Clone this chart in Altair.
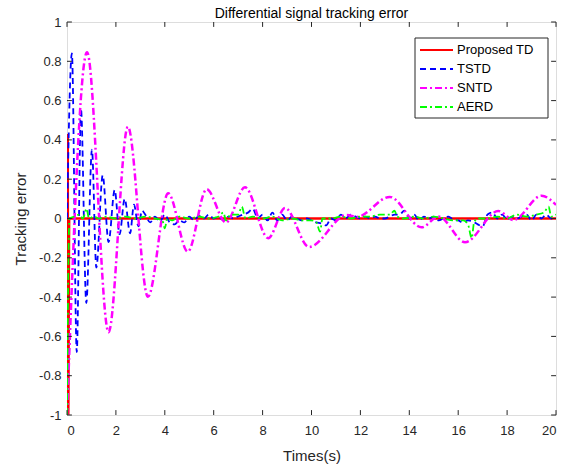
import altair as alt
import pandas as pd

# ---------------- data ----------------
names = ["Proposed TD", "TSTD", "SNTD", "AERD"]
colors = ["#FF0000", "#0000FF", "#FF00FF", "#00FF00"]
dashes = [[1, 0], [6, 4], [7, 3, 2, 3], [7, 3, 2, 3]]
widths = [2.5, 1.8, 2.5, 1.8]

red_t = [0.03, 0.05, 0.09, 20.0]
red_v = [0.43, -1.0, 0.0, 0.0]

blue_t = [0.0, 0.2, 0.4, 0.57, 0.79, 1.02, 1.2, 1.46, 1.7, 1.95, 2.15, 2.36, 2.58, 2.74, 2.92, 3.07,
          3.2, 3.4, 3.6, 3.8, 4.0, 4.2, 4.4, 4.6, 4.8, 5.0, 5.2, 5.4, 5.6, 5.8, 6.0, 6.2, 6.4, 6.6,
          6.8, 7.0, 7.2, 7.4, 7.6, 7.8, 8.0, 8.2, 8.4, 8.6, 8.8, 9.0, 9.2, 9.4, 9.6, 9.8, 10.0,
          10.2, 10.4, 10.6, 10.8, 11.0, 11.2, 11.4, 11.6, 11.8, 12.0, 12.2, 12.4, 12.6, 12.8, 13.0,
          13.2, 13.4, 13.6, 13.8, 14.0, 14.2, 14.4, 14.6, 14.8, 15.0, 15.2, 15.4, 15.6, 15.8, 16.0,
          16.2, 16.4, 16.6, 16.8, 17.0, 17.2, 17.4, 17.6, 17.8, 18.0, 18.2, 18.4, 18.6, 18.8, 19.0,
          19.2, 19.4, 19.6, 19.8, 20.0]
blue_v = [0.0, 0.84, -0.68, 0.56, -0.43, 0.35, -0.25, 0.22, -0.12, 0.145, -0.08, 0.10, -0.075, 0.07, -0.04, 0.04,
          0.02, -0.02, 0.01, -0.015, 0.02, -0.02, -0.03, -0.01, -0.02, 0.01, -0.01, 0.015, 0.0, 0.02, 0.0, 0.01, -0.01, 0.01,
          0.0, 0.01, 0.02, 0.03, 0.05, 0.0, 0.02, -0.01, 0.03, -0.01, 0.02, -0.01, 0.01, 0.0, -0.01, 0.0, -0.01,
          -0.02, -0.025, -0.035, 0.0, -0.01, 0.02, 0.0, 0.02, 0.01, 0.0, 0.01, 0.0, 0.01, 0.0, 0.0,
          0.01, 0.02, 0.02, 0.04, 0.0, 0.02, -0.01, 0.01, 0.0, 0.01, -0.01, 0.0, 0.01, -0.005, -0.01,
          -0.02, -0.01, -0.015, -0.03, -0.04, 0.02, 0.03, 0.0, 0.02, -0.005, 0.01, 0.0, 0.01, 0.02, -0.01,
          0.02, 0.0, 0.02, 0.0, 0.01]

mag_t = [0.0, 0.82, 1.70, 2.49, 3.31, 4.14, 4.94, 5.71, 6.50, 7.28, 8.23, 8.92, 9.9, 11.45, 11.85,
         13.2, 14.5, 15.2, 16.28, 17.64, 18.26, 19.41, 20.0]
mag_v = [-1.0, 0.846, -0.579, 0.467, -0.398, 0.128, -0.169, 0.149, -0.02, 0.159, -0.10, 0.053, -0.145, 0.018, 0.008,
         0.11, -0.045, 0.01, -0.121, 0.038, -0.008, 0.116, 0.069]

green_t = [0.0, 0.05, 0.1, 0.3, 0.5, 0.65, 0.8, 0.9, 1.1, 1.3, 1.6, 2.0, 2.4, 2.8, 3.2, 3.6, 3.9, 4.0, 4.1,
           4.3, 4.6, 5.0, 5.4, 5.8, 6.2, 6.4, 6.5, 6.7, 7.0, 7.15, 7.3, 7.6, 8.0, 8.4, 8.8, 9.2, 9.6,
           10.0, 10.2, 10.35, 10.45, 10.8, 11.2, 11.6, 12.0, 12.4, 12.8, 13.2, 13.4, 13.5, 13.8, 14.2,
           14.6, 15.0, 15.4, 15.8, 16.2, 16.4, 16.55, 16.65, 16.8, 17.2, 17.6, 18.0, 18.4, 18.8, 19.2,
           19.5, 19.7, 19.8, 20.0]
green_v = [-1.0, -0.3, 0.0, 0.01, 0.02, 0.0, 0.05, 0.0, 0.01, 0.0, 0.01, 0.0, 0.01, 0.0, 0.01, 0.0, -0.01, -0.05, 0.0,
           -0.01, 0.01, 0.0, 0.01, 0.0, 0.01, 0.03, -0.01, 0.02, 0.02, 0.06, 0.0, 0.01, 0.0, 0.01, -0.01, 0.0, -0.01,
           -0.01, -0.02, -0.067, 0.0, 0.0, 0.01, 0.0, 0.01, 0.01, 0.02, 0.02, 0.04, 0.01, 0.0, 0.01,
           0.0, 0.01, 0.0, -0.01, -0.01, -0.03, -0.10, -0.02, 0.0, 0.0, 0.01, 0.0, 0.02, 0.01, 0.02,
           0.03, 0.06, 0.01, 0.02]

x_ticks = [0, 2, 4, 6, 8, 10, 12, 14, 16, 18, 20]
y_ticks = [-1, -0.8, -0.6, -0.4, -0.2, 0, 0.2, 0.4, 0.6, 0.8, 1]

# ---------------- build tables ----------------
rows = []
for nm, ts, vs in [(names[0], red_t, red_v), (names[1], blue_t, blue_v),
                   (names[2], mag_t, mag_v), (names[3], green_t, green_v)]:
    for i, (t, v) in enumerate(zip(ts, vs)):
        rows.append({"series": nm, "t": t, "v": v, "i": i})
df = pd.DataFrame(rows)
legend_df = pd.DataFrame({"series": names, "k": list(range(len(names)))})

FONT = "Liberation Sans"
xs = alt.Scale(domain=[0, 20], nice=False, zero=False)
ys = alt.Scale(domain=[-1, 1], nice=False, zero=False)
cscale = alt.Scale(domain=names, range=colors)
dscale = alt.Scale(domain=names, range=dashes)

x_axis = alt.Axis(values=x_ticks, title="Times(s)", tickSize=0, domain=False, grid=False,
                  labelPadding=9, labelFontSize=13, titleFontSize=15, titlePadding=11,
                  labelFont=FONT, titleFont=FONT, labelColor="#262626", titleColor="#262626",
                  titleFontWeight="normal", labelOverlap=False)
y_axis = alt.Axis(values=y_ticks, title="Tracking error", tickSize=0, domain=False, grid=False,
                  labelPadding=6, labelFontSize=13, titleFontSize=15, titlePadding=10,
                  labelFont=FONT, titleFont=FONT, labelColor="#262626", titleColor="#262626",
                  titleFontWeight="normal", labelExpr="datum.value", labelOverlap=False)

lines = alt.Chart(df).mark_line(interpolate="monotone", clip=True).encode(
    x=alt.X("t:Q", scale=xs, axis=x_axis),
    y=alt.Y("v:Q", scale=ys, axis=y_axis),
    color=alt.Color("series:N", scale=cscale, legend=None),
    strokeDash=alt.StrokeDash("series:N", scale=dscale, legend=None),
    strokeWidth=alt.StrokeWidth("series:N", scale=alt.Scale(type="ordinal", domain=names, range=widths),
                                legend=None),
    order="i:Q",
    detail="series:N",
)

xt = pd.DataFrame({"x": x_ticks})
yt = pd.DataFrame({"y": y_ticks})
tick_col = "#262626"
bottom = alt.Chart(xt).transform_calculate(y0="-1", y1="-1 + 0.025").mark_rule(color=tick_col, strokeWidth=1).encode(
    x=alt.X("x:Q", scale=xs, axis=x_axis), y=alt.Y("y0:Q", scale=ys, axis=y_axis), y2="y1:Q")
top = alt.Chart(xt).transform_calculate(y0="1", y1="1 - 0.025").mark_rule(color=tick_col, strokeWidth=1).encode(
    x=alt.X("x:Q", scale=xs, axis=x_axis), y=alt.Y("y0:Q", scale=ys, axis=y_axis), y2="y1:Q")
left = alt.Chart(yt).transform_calculate(x0="0", x1="0.2").mark_rule(color=tick_col, strokeWidth=1).encode(
    y=alt.Y("y:Q", scale=ys, axis=y_axis), x=alt.X("x0:Q", scale=xs, axis=x_axis), x2="x1:Q")
right = alt.Chart(yt).transform_calculate(x0="20", x1="19.8").mark_rule(color=tick_col, strokeWidth=1).encode(
    y=alt.Y("y:Q", scale=ys, axis=y_axis), x=alt.X("x0:Q", scale=xs, axis=x_axis), x2="x1:Q")

# ---- legend (MATLAB style box in the upper right) ----
leg_box = alt.Chart(legend_df).transform_filter("datum.k == 0").mark_rect(
    fill="white", stroke="#262626", strokeWidth=1).encode(
    x=alt.value(348), x2=alt.value(481), y=alt.value(16), y2=alt.value(96))
leg_lines = alt.Chart(legend_df).transform_calculate(py="28 + 19 * datum.k").mark_rule(strokeWidth=2).encode(
    x=alt.value(353), x2=alt.value(386),
    y=alt.Y("py:Q", scale=None),
    color=alt.Color("series:N", scale=cscale, legend=None),
    strokeDash=alt.StrokeDash("series:N", scale=dscale, legend=None),
)
leg_text = alt.Chart(legend_df).transform_calculate(py="28 + 19 * datum.k").mark_text(
    align="left", baseline="middle", font=FONT, fontSize=13, color="black").encode(
    x=alt.value(390),
    y=alt.Y("py:Q", scale=None),
    text="series:N",
)

chart = alt.layer(lines, bottom, top, left, right, leg_box, leg_lines, leg_text).properties(
    width=489, height=393,
    title=alt.Title("Differential signal tracking error", fontSize=14, font=FONT,
                    fontWeight="normal", color="black", offset=4, dy=9),
    autosize=alt.AutoSizeParams(type="none"),
    padding={"left": 67, "top": 22, "right": 18, "bottom": 52},
).configure_view(stroke="#262626", strokeWidth=1).configure(background="white")

chart.save("out.html", embed_options={"renderer": "svg", "actions": False})
